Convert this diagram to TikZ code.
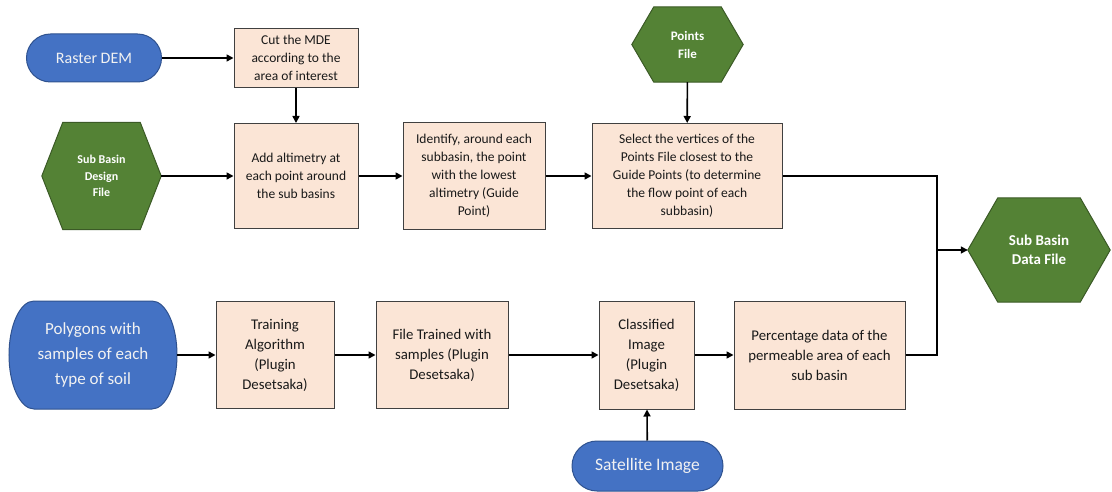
\documentclass[tikz,border=0pt]{standalone}
\usepackage{fontspec}
\setmainfont{Carlito}
\usetikzlibrary{arrows.meta,calc}
\pgfdeclarelayer{background}
\pgfsetlayers{background,main}
\definecolor{bluefill}{HTML}{4472C4}
\definecolor{blueline}{HTML}{2F528F}
\definecolor{greenfill}{HTML}{548235}
\definecolor{greenline}{HTML}{3B5A26}
\definecolor{peach}{HTML}{FBE5D6}
\definecolor{boxline}{HTML}{404040}
\tikzset{
  procbox/.style={draw=boxline, fill=peach, line width=1pt, align=center, inner sep=2pt,
    font=\fontsize{13.5}{18}\selectfont, text=black!90},
  procboxlow/.style={procbox, font=\fontsize{14.8}{20}\selectfont},
  term/.style={draw=blueline, fill=bluefill, line width=1pt, align=center, text=white!95!black, inner sep=0pt},
  termtext/.style={align=center, text=white!95!black, inner sep=0pt},
  termfill/.style={draw=blueline, fill=bluefill, line width=1pt},
  hexnode/.style={inner sep=0pt, align=center, text=white, font=\bfseries\fontsize{12}{16.5}\selectfont},
  hexfill/.style={draw=greenline, fill=greenfill, line width=1pt},
  conn/.style={line width=1.6pt, -{Triangle[length=7pt,width=7pt]}},
  plainconn/.style={line width=1.6pt},
}
\newcommand\hexshape[2]{%
  \begin{pgfonlayer}{background}
    \path[hexfill] (#1.west) -- ([xshift=#2]#1.north west) -- ([xshift=-#2]#1.north east)
      -- (#1.east) -- ([xshift=-#2]#1.south east) -- ([xshift=#2]#1.south west) -- cycle;
  \end{pgfonlayer}}
\begin{document}
\begin{tikzpicture}[x=1pt,y=-1pt]
\useasboundingbox (0,0) rectangle (1112,492);

% top part
\node[term, minimum width=135, minimum height=48, rounded corners=24,
  font=\fontsize{16}{19}\selectfont] (dem) at (94,58) {Raster DEM};
\node[procbox, minimum width=124, minimum height=59] (cut) at (296,58)
  {Cut the MDE\\according to the\\area of interest};
\node[procbox, minimum width=124, minimum height=105] (add) at (296,176)
  {Add altimetry at\\each point around\\the sub basins};
\node[hexnode, minimum width=119, minimum height=107] (sbd) at (101.5,176)
  {Sub Basin\\Design\\File};
\hexshape{sbd}{21pt}
\node[procbox, minimum width=142, minimum height=107] (ident) at (474,176)
  {Identify, around each\\subbasin, the point\\with the lowest\\altimetry (Guide\\Point)};
\node[hexnode, font=\bfseries\fontsize{13}{18}\selectfont, minimum width=111, minimum height=75]
  (pts) at (687.5,44.5) {Points\\File};
\hexshape{pts}{22pt}
\node[procbox, minimum width=190, minimum height=105] (sel) at (687,176)
  {Select the vertices of the\\Points File closest to the\\Guide Points (to determine\\the flow point of each\\subbasin)};
\node[hexnode, font=\bfseries\fontsize{15}{19.5}\selectfont, minimum width=142, minimum height=104]
  (sbdf) at (1039,250) {Sub Basin\\Data File};
\hexshape{sbdf}{30pt}

% bottom part
\node[termtext, minimum width=168, minimum height=108,
  font=\fontsize{17}{25}\selectfont] (poly) at (93,355)
  {Polygons with\\samples of each\\type of soil};
\begin{pgfonlayer}{background}
  \path[termfill] (34,301) -- (152,301)
    .. controls (165.8,301) and (177,325.2) .. (177,355)
    .. controls (177,384.8) and (165.8,409) .. (152,409)
    -- (34,409)
    .. controls (20.2,409) and (9,384.8) .. (9,355)
    .. controls (9,325.2) and (20.2,301) .. (34,301) -- cycle;
\end{pgfonlayer}
\node[procboxlow, minimum width=118, minimum height=107] (train) at (275,355)
  {Training\\Algorithm\\(Plugin\\Desetsaka)};
\node[procboxlow, minimum width=132, minimum height=107] (ftr) at (442,355)
  {File Trained with\\samples (Plugin\\Desetsaka)};
\node[procboxlow, minimum width=95, minimum height=108] (cls) at (646.5,355)
  {Classified\\Image\\(Plugin\\Desetsaka)};
\node[procboxlow, minimum width=171, minimum height=108] (pct) at (819.5,355)
  {Percentage data of the\\permeable area of each\\sub basin};
\node[term, minimum width=151, minimum height=50, rounded corners=25,
  font=\fontsize{17.5}{21}\selectfont] (sat) at (647.5,466) {Satellite Image};

% connectors
\draw[conn] (dem) -- (cut);
\draw[conn] (cut) -- (add);
\draw[conn] (sbd) -- (add);
\draw[conn] (add) -- (ident);
\draw[conn] (ident) -- (sel);
\draw[conn] (pts) -- (sel);
\coordinate (j) at (937,250);
\draw[plainconn] (sel.east) -| (j);
\draw[plainconn] (pct.east) -| (j);
\draw[conn] (j) -- (sbdf.west);
\draw[conn] (poly) -- (train);
\draw[conn] (train) -- (ftr);
\draw[conn] (ftr) -- (cls);
\draw[conn] (cls) -- (pct);
\draw[conn] (sat) -- (cls);
\end{tikzpicture}
\end{document}
